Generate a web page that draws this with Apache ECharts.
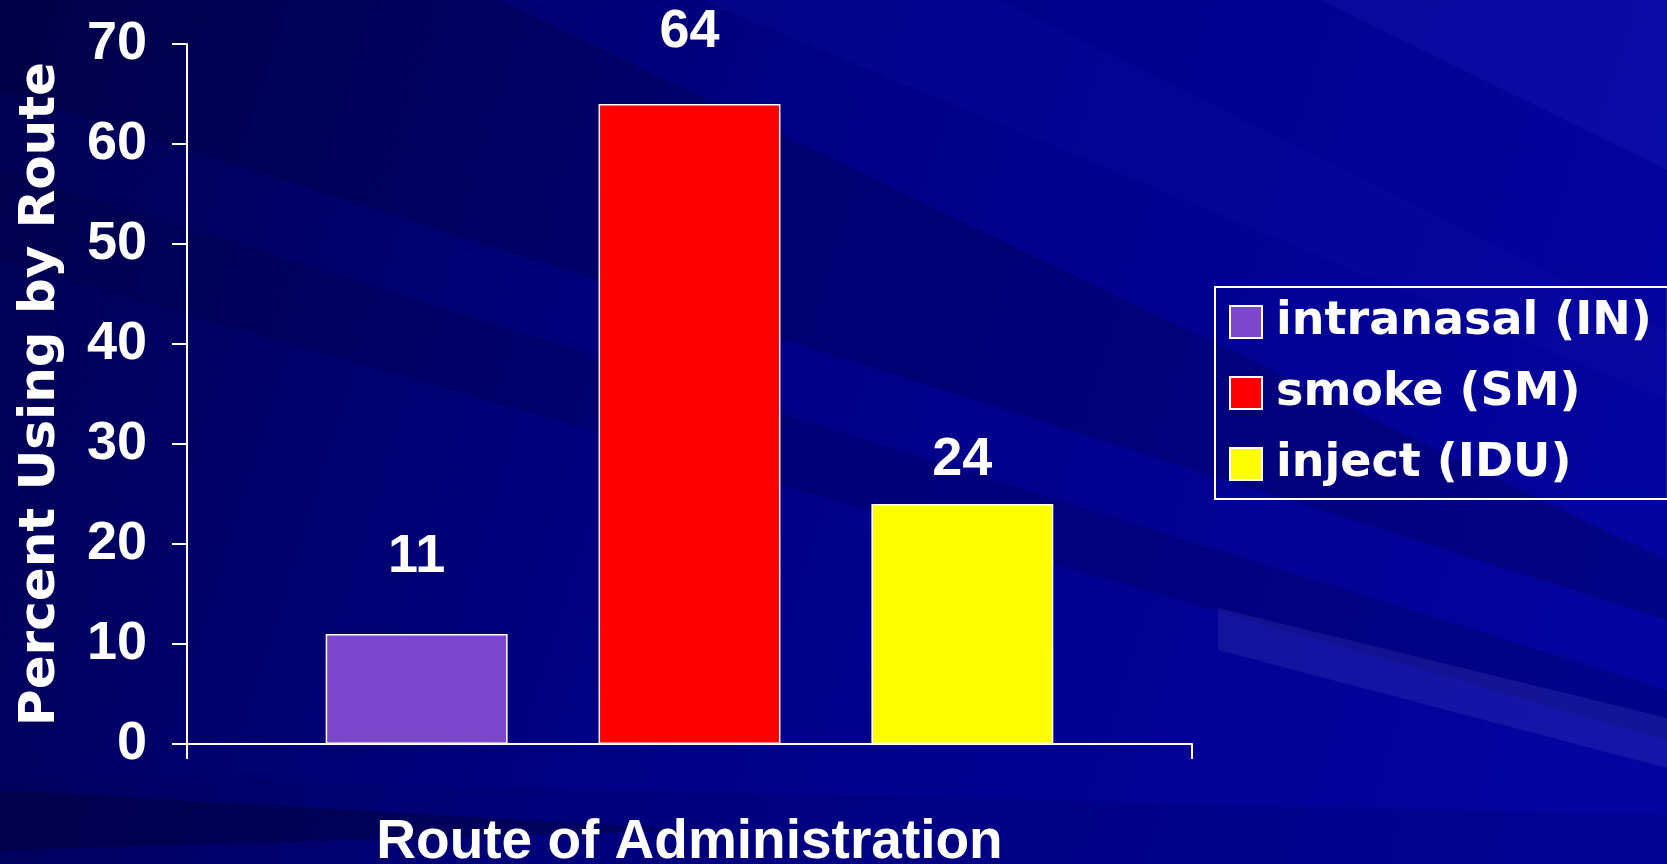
<!DOCTYPE html>
<html>
<head>
<meta charset="utf-8">
<script src="https://cdn.jsdelivr.net/npm/echarts@6/dist/echarts.min.js"></script>
<style>
html, body { margin: 0; padding: 0; background: #000080; }
#chart { width: 1667px; height: 864px; }
</style>
</head>
<body>
<div id="chart"></div>
<script>
// data
var categories = [''];
var seriesNames = ['intranasal (IN)', 'smoke (SM)', 'inject (IDU)'];
var seriesValues = [11, 64, 24];
var seriesColors = ['#7b48cc', '#ff0000', '#ffff00'];
var yMin = 0, yMax = 70, yStep = 10;

// label distance above each bar (the slide has them placed by hand)
var labelGaps = [50, 45, 17];

var chart = echarts.init(document.getElementById('chart'));

var series = [];
for (var i = 0; i < seriesNames.length; i++) {
	series.push({
		name: seriesNames[i],
		type: 'bar',
		barGap: '50%',
		barCategoryGap: '27.6%',
		data: [seriesValues[i]],
		itemStyle: {
			color: seriesColors[i],
			borderColor: '#ffffff',
			borderWidth: 1.5
		},
		label: {
			show: true,
			position: 'top',
			distance: labelGaps[i],
			color: '#ffffff',
			fontSize: 54,
			fontWeight: 'bold',
			fontFamily: 'Liberation Sans'
		}
	});
}

// background streaks, just decoration
var streaks = [
	{ shape: { points: [[0, 0], [500, 0], [1667, 560], [1667, 620], [0, 90]] }, color: 'rgba(0,0,40,0.22)' },
	{ shape: { points: [[0, 170], [0, 260], [1667, 740], [1667, 690]] }, color: 'rgba(0,0,50,0.2)' },
	{ shape: { points: [[700, 0], [1000, 0], [1667, 330], [1667, 400]] }, color: 'rgba(20,20,170,0.2)' },
	{ shape: { points: [[1218, 608], [1218, 650], [1667, 768], [1667, 718]] }, color: 'rgba(110,110,220,0.16)' },
	{ shape: { points: [[0, 775], [1667, 815], [1667, 864], [0, 864]] }, color: 'rgba(0,0,90,0.2)' },
	{ shape: { points: [[0, 790], [700, 830], [0, 850]] }, color: 'rgba(0,0,40,0.35)' },
	{ shape: { points: [[1320, 0], [1667, 0], [1667, 170]] }, color: 'rgba(40,40,200,0.2)' }
];
var graphics = [];
for (var j = 0; j < streaks.length; j++) {
	graphics.push({
		type: 'polygon',
		silent: true,
		z: -10,
		shape: streaks[j].shape,
		style: { fill: streaks[j].color }
	});
}

var option = {
	animation: false,
	backgroundColor: {
		type: 'linear',
		x: 0, y: 0, x2: 1, y2: 0.6,
		colorStops: [
			{ offset: 0, color: '#000050' },
			{ offset: 0.45, color: '#000084' },
			{ offset: 1, color: '#0404a0' }
		]
	},
	graphic: graphics,
	grid: {
		left: 187,
		right: 475,
		top: 44,
		bottom: 120,
		containLabel: false,
		outerBoundsMode: 'none'
	},
	legend: {
		orient: 'vertical',
		left: 1215,
		top: 287,
		padding: [12, 16, 12, 14],
		itemGap: 25,
		itemWidth: 32,
		itemHeight: 32,
		icon: 'rect',
		borderColor: '#ffffff',
		borderWidth: 2,
		textStyle: {
			color: '#ffffff',
			fontSize: 46,
			fontWeight: 'bold',
			fontFamily: 'DejaVu Sans',
			padding: [0, 0, 0, 9]
		},
		data: seriesNames
	},
	xAxis: {
		type: 'category',
		data: categories,
		name: 'Route of Administration',
		nameLocation: 'middle',
		nameGap: 71,
		nameTextStyle: {
			color: '#ffffff',
			fontSize: 55,
			fontWeight: 'bold',
			fontFamily: 'Liberation Sans'
		},
		axisLine: { lineStyle: { color: '#ffffff', width: 2 } },
		axisTick: { show: true, length: 15, lineStyle: { color: '#ffffff', width: 2 } },
		axisLabel: { show: false }
	},
	yAxis: {
		type: 'value',
		min: yMin,
		max: yMax,
		interval: yStep,
		name: 'Percent Using by Route',
		nameLocation: 'middle',
		nameRotate: 90,
		nameGap: 121,
		nameTextStyle: {
			color: '#ffffff',
			fontSize: 50,
			fontWeight: 'bold',
			fontFamily: 'DejaVu Sans'
		},
		axisLine: { show: true, lineStyle: { color: '#ffffff', width: 2 } },
		axisTick: { show: true, length: 15, lineStyle: { color: '#ffffff', width: 2 } },
		axisLabel: {
			color: '#ffffff',
			fontSize: 54,
			fontWeight: 'bold',
			fontFamily: 'Liberation Sans',
			margin: 40
		},
		splitLine: { show: false }
	},
	series: series
};

chart.setOption(option);
</script>
</body>
</html>
